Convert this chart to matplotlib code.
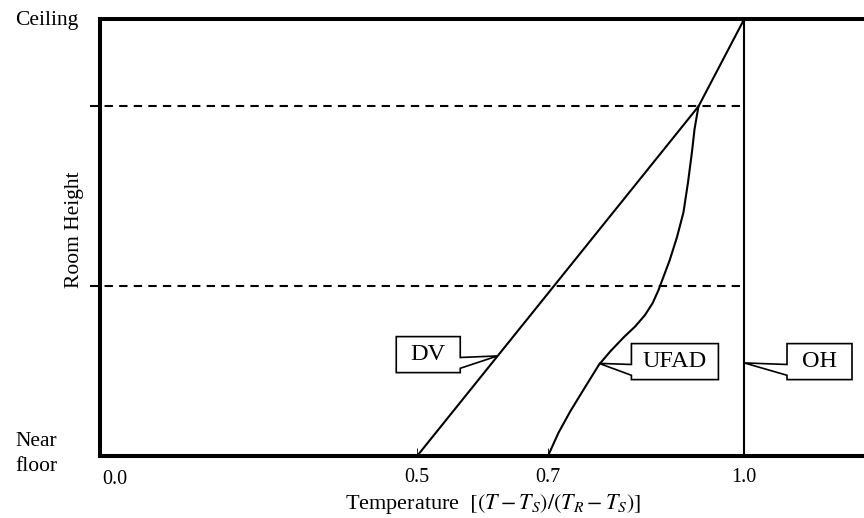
#! /usr/bin/env python3

import matplotlib
matplotlib.use('Agg')
import matplotlib.pyplot as plt
from matplotlib.patches import Polygon
import numpy as np

plt.rcParams['font.family'] = ['Liberation Serif', 'DejaVu Serif']
plt.rcParams['mathtext.fontset'] = 'stix'
plt.rcParams['lines.scale_dashes'] = False

# normalised height (0 = near floor, 1 = ceiling) vs (T - Ts)/(Tr - Ts)
dv_temp = [0.5, 0.930, 1.0]
dv_height = [0.0, 0.8, 1.0]

ufad_temp = [0.700, 0.716, 0.734, 0.754, 0.778, 0.795, 0.816, 0.833, 0.848,
             0.860, 0.869, 0.877, 0.886, 0.897, 0.907, 0.914, 0.920, 0.924,
             0.930]
ufad_height = [0.0, 0.053, 0.102, 0.151, 0.209, 0.239, 0.272, 0.296, 0.322,
               0.350, 0.380, 0.412, 0.448, 0.500, 0.557, 0.626, 0.695, 0.748,
               0.8]

oh_temp = [1.0, 1.0]
oh_height = [0.0, 1.0]

zone_levels = [0.39, 0.8]   # dashed lines: occupied / stratified zones
tick_values = [0.5, 0.7, 1.0]
tick_labels = ['0.5', '0.7', '1.0']

XMIN, XMAX = 0.0153, 1.183


def callout(ax, label, center, tip, size_px):
    # boxed label with a wedge pointing at the curve, built in pixels
    cx, cy = ax.transData.transform(center)
    tx, ty = ax.transData.transform(tip)
    w, h = size_px
    x0, x1 = cx - w/2, cx + w/2
    y0, y1 = cy - h/2, cy + h/2
    b_hi, b_lo = y1 - 0.58*h, y1 - 0.88*h
    if tx < cx:
        verts = [(x0, y1), (x1, y1), (x1, y0), (x0, y0),
                 (x0, b_lo), (tx, ty), (x0, b_hi)]
    else:
        verts = [(x0, y1), (x0, y0), (x1, y0), (x1, b_lo),
                 (tx, ty), (x1, b_hi), (x1, y1)]
    verts = ax.transData.inverted().transform(np.array(verts))
    ax.add_patch(Polygon(verts, closed=True, fc='white', ec='black',
                         lw=1.2, zorder=5, clip_on=False))
    ax.text(center[0], center[1], label, ha='center', va='center',
            fontsize=17.5, zorder=6)


def Plot():
    fig = plt.figure(figsize=(8.64, 5.18), dpi=100)
    ax = fig.add_axes([100/864, 1 - 456/518, 1 - 100/864, (456 - 19)/518])
    ax.set_xlim(XMIN, XMAX)
    ax.set_ylim(0, 1)

    for side in ['left', 'bottom', 'top']:
        ax.spines[side].set_linewidth(2.9)
    ax.spines['right'].set_visible(False)

    ax.set_yticks([])
    ax.set_xticks(tick_values)
    ax.set_xticklabels(tick_labels, fontsize=14.5)
    ax.tick_params(axis='x', direction='in', length=6, width=0.6, pad=9)

    for lev in zone_levels:
        ax.plot([XMIN - 0.015, 1.0], [lev, lev], color='black', lw=1.5,
                dashes=(6, 4.5), clip_on=False, zorder=2)

    ax.plot(dv_temp, dv_height, color='black', lw=1.5, zorder=3)
    ax.plot(ufad_temp, ufad_height, color='black', lw=1.5, zorder=3)
    ax.plot(oh_temp, oh_height, color='black', lw=1.5, zorder=3)

    callout(ax, 'DV', (0.517, 0.232), (0.623, 0.229), (64, 36))
    callout(ax, 'UFAD', (0.894, 0.216), (0.778, 0.212), (87, 36))
    callout(ax, 'OH', (1.115, 0.216), (1.0, 0.213), (65, 36))

    ax.text(0.003, -0.031, '0.0', transform=ax.transAxes, ha='left', va='top',
            fontsize=14.5)
    ax.set_xlabel(r'Temperature  $[(T-T_S)/(T_R-T_S)]$', fontsize=16)
    ax.xaxis.set_label_coords(393/764, -0.083)

    fig.text(15/864, 1 - 20/518, 'Ceiling', ha='left', va='center',
             fontsize=15.5)
    fig.text(15/864, 1 - 454/518, 'Near\nfloor', ha='left', va='center',
             fontsize=15.5, linespacing=1.45)
    fig.text(74/864, 1 - 230/518, 'Room Height', ha='center', va='center',
             rotation=90, fontsize=15.5)
    return fig


def Run():
    fig = Plot()
    fig.savefig('out.png', dpi=100)


if __name__ == "__main__":
    Run()
